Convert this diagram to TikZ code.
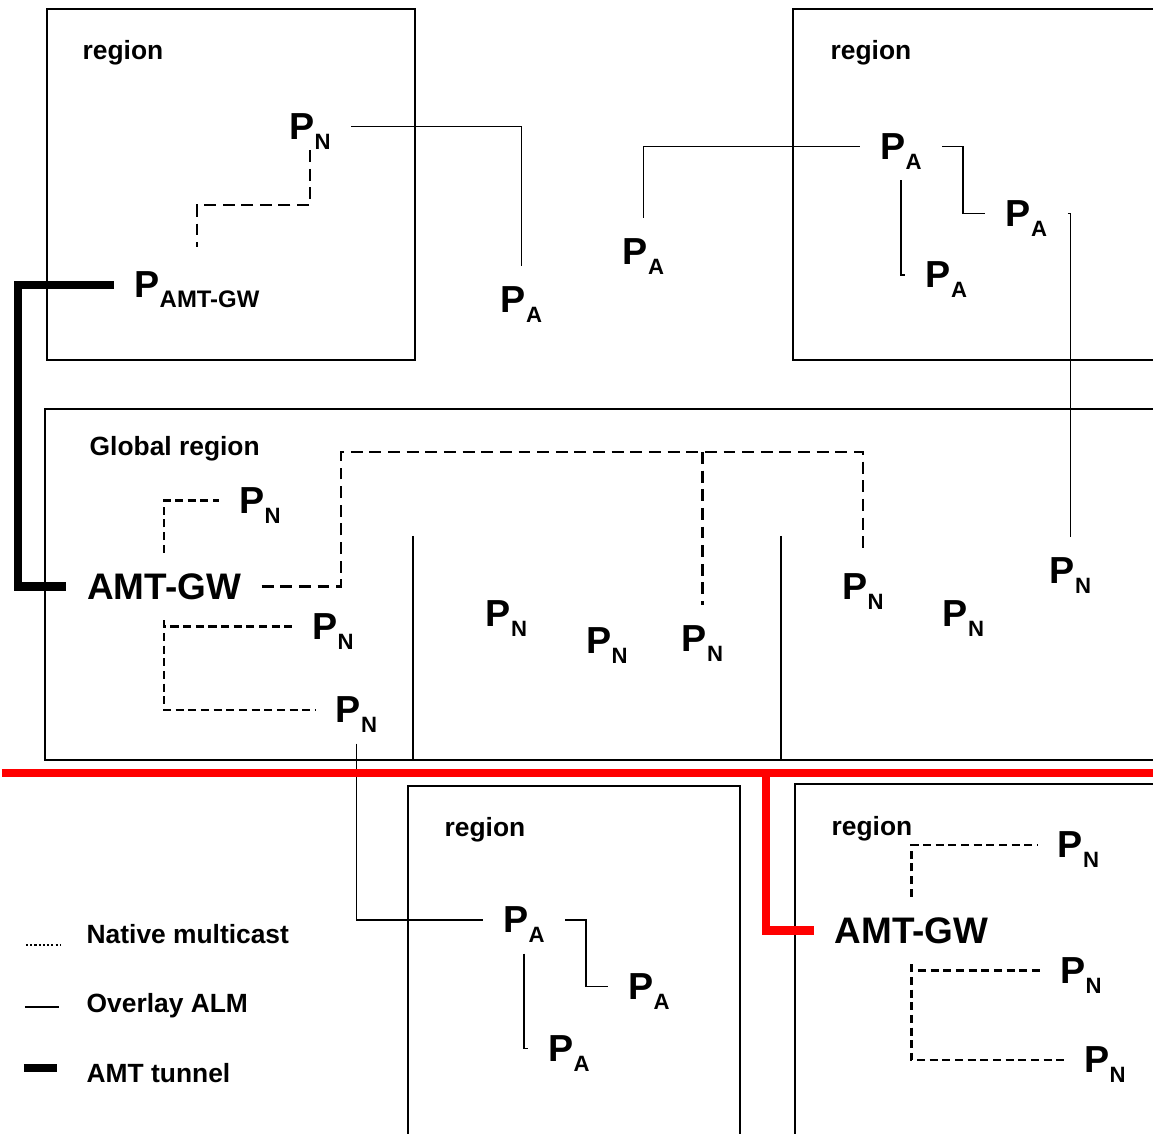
\documentclass[tikz,border=0pt]{standalone}
\usepackage{fontspec}
\setmainfont{Liberation Sans}
\usetikzlibrary{calc}
\definecolor{TunnelRed}{HTML}{FF0000}

\newcommand{\Psub}[2][6.3]{{\fontsize{10.7}{12}\selectfont P}\smash{\raisebox{-2.85pt}{\fontsize{#1}{7}\selectfont #2}}}

\begin{document}
\begin{tikzpicture}[x=0.01cm, y=-0.01cm,
        peer/.style={inner sep=0pt, font=\bfseries},
        gw/.style={inner sep=0pt, font=\bfseries\fontsize{10.5}{12}\selectfont},
        lbl/.style={inner sep=0pt, anchor=base west, font=\bfseries\fontsize{7.5}{9}\selectfont},
        regionbox/.style={draw, line width=0.55pt},
        alm/.style={line width=0.55pt},
        native/.style={line width=0.6pt, dash pattern=on 2.3pt off 1.3pt},
        nativewide/.style={line width=0.6pt, dash pattern=on 3.4pt off 1.9pt},
        tunnel/.style={line width=2.3pt},
        gap/.style={shorten <=0.2cm, shorten >=0.2cm}]

        \path[use as bounding box, clip] (0,0) rectangle (1153,1134);

        % top left region
        \draw[regionbox] (47,9) rectangle (415,360);
        \node[lbl] (rgTL) at (82,60) {region};
        \node[peer] (pnTL) at (310,126.5) {\Psub{N}};
        \node[peer] (pgw) at (197,285) {\Psub[6.8]{AMT-GW}};
        \node[peer] (paTL) at (521.5,300) {\Psub{A}};

        % top right region
        \draw[regionbox] (793,9) rectangle (1170,360);
        \node[lbl] (rgTR) at (830,60) {region};
        \node[peer] (paR1) at (901,146.5) {\Psub{A}};
        \node[peer] (paOut) at (643.5,251.5) {\Psub{A}};
        \node[peer] (paR2) at (1026.5,213.5) {\Psub{A}};
        \node[peer] (paR3) at (946.5,275) {\Psub{A}};

        % global region
        \draw[regionbox] (45,409) rectangle (1170,760);
        \draw[regionbox] (413,536) -- (413,760) (781,536) -- (781,760);
        \node[lbl] (rgGlob) at (89,455.5) {Global region};
        \node[gw] (gw1) at (164,586.5) {AMT-GW};
        \node[peer] (pnG1) at (260,500.5) {\Psub{N}};
        \node[peer] (pnG2) at (333,626.5) {\Psub{N}};
        \node[peer] (pnG3) at (356.5,710) {\Psub{N}};
        \node[peer] (pnG4) at (863,586.5) {\Psub{N}};
        \node[peer] (pnG5) at (702.5,639) {\Psub{N}};
        \node[peer] (pnM1) at (506.5,614) {\Psub{N}};
        \node[peer] (pnM2) at (607,640.5) {\Psub{N}};
        \node[peer] (pnM3) at (963.5,614) {\Psub{N}};
        \node[peer] (pnFar) at (1070.5,570.5) {\Psub{N}};

        % bottom regions
        \draw[regionbox] (408,786) rectangle (740,1150);
        \node[lbl] (rgBM) at (444,837) {region};
        \node[peer] (paB1) at (524,920) {\Psub{A}};
        \node[peer] (paB2) at (649,986.5) {\Psub{A}};
        \node[peer] (paB3) at (569,1048.5) {\Psub{A}};

        \draw[regionbox] (795,784) rectangle (1170,1150);
        \node[lbl] (rgBR) at (831,836) {region};
        \node[gw] (gw2) at (911.5,930.5) {AMT-GW};
        \node[peer] (pnR1) at (1078.5,845) {\Psub{N}};
        \node[peer] (pnR2) at (1081,970.5) {\Psub{N}};
        \node[peer] (pnR3) at (1105,1060) {\Psub{N}};

        % overlay ALM
        \draw[alm, gap] (pnTL.east) -| (paTL.north);
        \draw[alm, gap] (paR1.west) -| (paOut.north);
        \draw[alm, gap] (paR1.east) -- ++(41,0) |- (paR2.west);
        \draw[alm, gap] (paR1.south) |- (paR3.west);
        \draw[alm, gap] (paR2.east) -| (pnFar.north);
        \draw[alm, gap] (pnG3.south) |- (paB1.west);
        \draw[alm, gap] (paB1.east) -- ++(41,0) |- (paB2.west);
        \draw[alm, gap] (paB1.south) |- (paB3.west);

        % native multicast
        \draw[nativewide, shorten <=0.1cm, shorten >=0.24cm] (pnTL.south) -- ++(0,65) -| (pgw.north);
        \draw[native, gap] (gw1.north) |- (pnG1.west);
        \draw[native, gap] (gw1.south) |- (pnG2.west);
        \draw[native, gap] (gw1.south) |- (pnG3.west);
        \coordinate (nmTop) at (341,452);
        \draw[nativewide, gap] (gw1.east) -| (nmTop) -| (pnG4.north);
        \draw[nativewide, shorten >=0.2cm] (nmTop -| pnG5.north) -- (pnG5.north);
        \draw[native, gap] (gw2.north) |- (pnR1.west);
        \draw[native, gap] (gw2.south) |- (pnR2.west);
        \draw[native, gap] (gw2.south) |- (pnR3.west);

        % AMT tunnels
        \coordinate (tunL) at (18,400);
        \draw[tunnel, gap] (pgw.west) -| (tunL) |- (gw1.west);
        \coordinate (redW) at (2,773);
        \coordinate (redE) at (1170,773);
        \coordinate (rJoin) at (766,773);
        \draw[tunnel, TunnelRed] (redW) -- (redE);
        \draw[tunnel, TunnelRed, shorten >=0.2cm] (rJoin) |- (gw2.west);

        % legend
        \node[lbl] (lgNat) at (86,944) {Native multicast};
        \node[lbl] (lgAlm) at (86,1013) {Overlay ALM};
        \node[lbl] (lgTun) at (86,1083) {AMT tunnel};
        \draw[line width=0.35pt, dash pattern=on 0.6pt off 0.6pt] (lgNat.base west) ++(-60,1) -- ++(34,0);
        \draw[alm] (lgAlm.base west) ++(-61,-6) -- ++(34,0);
        \draw[tunnel] (lgTun.base west) ++(-62,-15) -- ++(33,0);
    \end{tikzpicture}
\end{document}
